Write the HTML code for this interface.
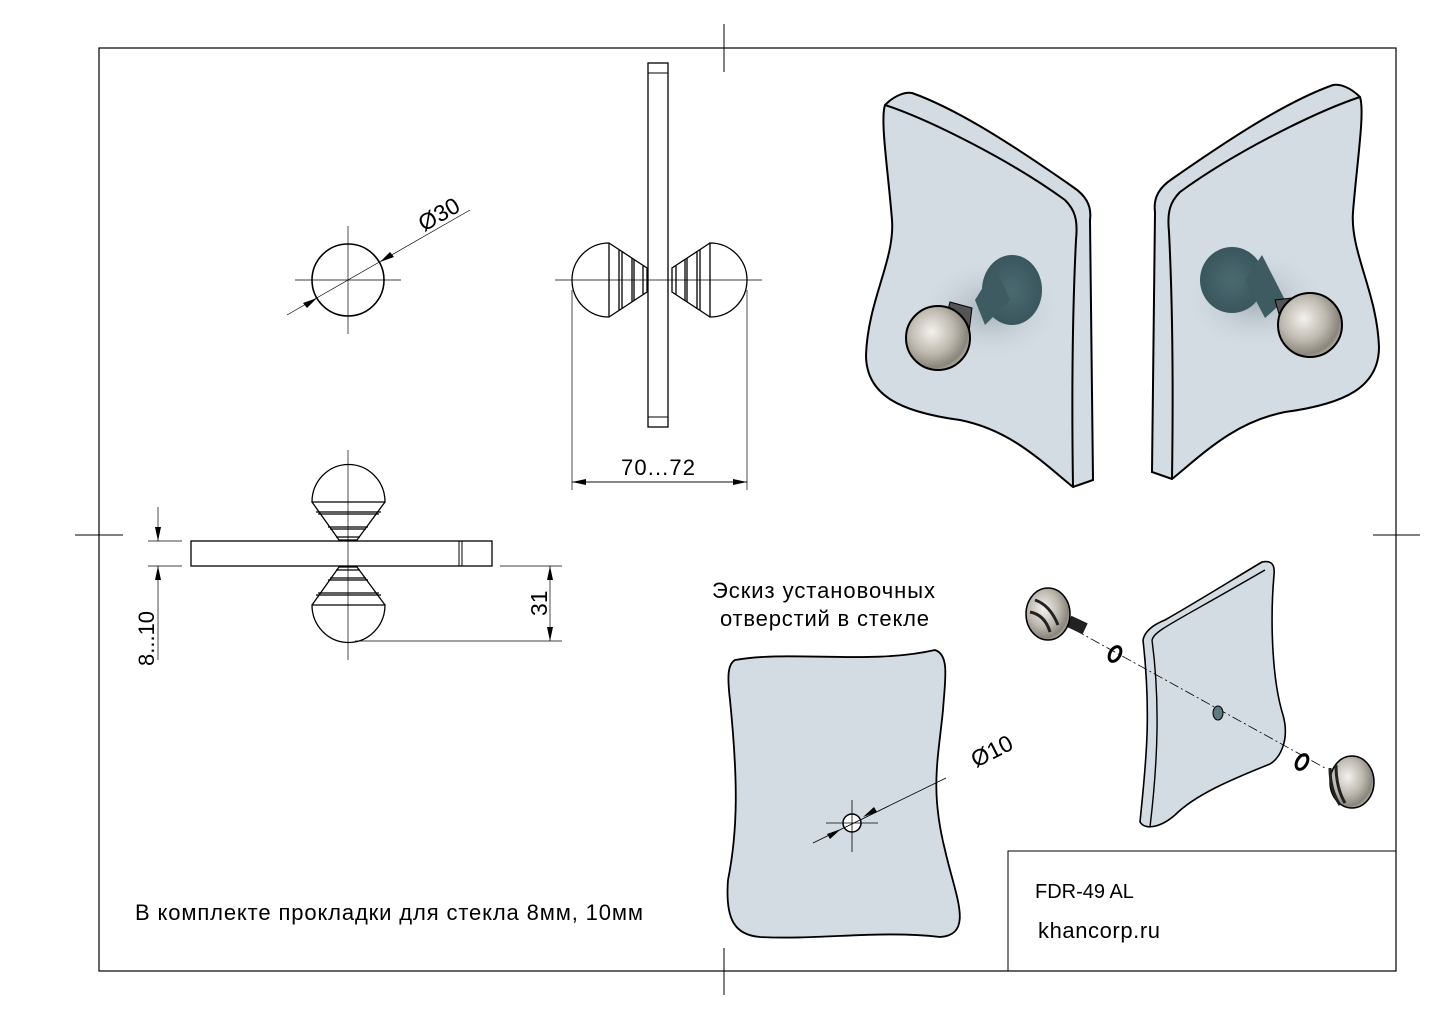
<!DOCTYPE html>
<html><head><meta charset="utf-8"><style>
html,body{margin:0;padding:0;background:#fff}
svg{display:block}
text{font-family:"Liberation Sans",sans-serif;fill:#000}
</style></head><body>
<svg width="1444" height="1021" viewBox="0 0 1444 1021" xmlns="http://www.w3.org/2000/svg">
<defs>
<marker id="ar" markerWidth="14" markerHeight="6" refX="14" refY="3" orient="auto" markerUnits="userSpaceOnUse"><path d="M0,0 L14,3 L0,6z" fill="#000"/></marker>
<radialGradient id="chrome" cx="0.4" cy="0.4" r="0.7"><stop offset="0" stop-color="#f4f2ee"/><stop offset="0.5" stop-color="#bdb8ae"/><stop offset="0.8" stop-color="#8a857c"/><stop offset="1" stop-color="#d8d2c4"/></radialGradient>
<radialGradient id="teal" cx="0.5" cy="0.5" r="0.6"><stop offset="0" stop-color="#4b6a70"/><stop offset="1" stop-color="#36525a"/></radialGradient>
<radialGradient id="shadow" cx="0.5" cy="0.5" r="0.5"><stop offset="0" stop-color="#8f9ba2" stop-opacity="0.7"/><stop offset="1" stop-color="#c9d3d9" stop-opacity="0"/></radialGradient>
</defs>
<g fill="none" stroke="#000">
<rect x="99" y="48" width="1297" height="923" stroke-width="1.2"/>
<line x1="724" y1="24" x2="724" y2="72"/>
<line x1="724" y1="948" x2="724" y2="995"/>
<line x1="75" y1="535" x2="123" y2="535"/>
<line x1="1373" y1="535" x2="1420" y2="535"/>
<rect x="1008" y="851" width="388" height="120"/>

<circle cx="348" cy="280" r="36" stroke-width="1.6"/>
<g stroke-width="0.7">
<line x1="348" y1="226" x2="348" y2="334"/>
<line x1="295" y1="280" x2="401" y2="280"/>
<line x1="287" y1="315" x2="470" y2="210"/>
</g>
<path d="M317,298 l-14,5 l4,5z" fill="#000" stroke="none"/>
<path d="M380,262 l14,-5 l-4,-5z" fill="#000" stroke="none"/>

<rect x="648" y="63" width="20" height="364" stroke-width="1.3"/>
<line x1="648" y1="73" x2="668" y2="73"/>
<line x1="648" y1="417" x2="668" y2="417"/>
<g stroke-width="1.3">
<path d="M609,243 A37,37 0 0 0 609,317 Z"/>
<path d="M609,243 L647,268 L647,292 L609,317"/>
<line x1="619" y1="250" x2="619" y2="310"/><line x1="622" y1="251" x2="622" y2="309"/>
<line x1="632" y1="258" x2="632" y2="302"/><line x1="634" y1="260" x2="634" y2="300"/>
<line x1="643" y1="266" x2="643" y2="294"/>
<path d="M710,243 A37,37 0 0 1 710,317 Z"/>
<path d="M710,243 L672,268 L672,292 L710,317"/>
<line x1="700" y1="250" x2="700" y2="310"/><line x1="697" y1="251" x2="697" y2="309"/>
<line x1="687" y1="258" x2="687" y2="302"/><line x1="685" y1="260" x2="685" y2="300"/>
<line x1="676" y1="266" x2="676" y2="294"/>
</g>
<g stroke-width="0.7">
<line x1="555" y1="280" x2="762" y2="280"/>
<line x1="572" y1="290" x2="572" y2="490"/>
<line x1="747" y1="290" x2="747" y2="490"/>
<line x1="572" y1="482" x2="747" y2="482" marker-end="url(#ar)"/>
<line x1="747" y1="482" x2="572" y2="482" marker-end="url(#ar)"/>
</g>

<rect x="191" y="541" width="301" height="25" stroke-width="1.3"/>
<line x1="459" y1="541" x2="459" y2="566"/><line x1="462" y1="541" x2="462" y2="566"/>
<g stroke-width="1.3">
<path d="M312,502 A36,37 0 0 1 385,502 Z"/>
<path d="M312,502 L339,540 L357,540 L385,502"/>
<line x1="316" y1="512" x2="381" y2="512"/><line x1="318" y1="514" x2="379" y2="514"/>
<line x1="328" y1="527" x2="368" y2="527"/><line x1="330" y1="529" x2="366" y2="529"/>
<line x1="336" y1="537" x2="360" y2="537"/>
<path d="M312,605 A36,37 0 0 0 385,605 Z"/>
<path d="M312,605 L339,567 L357,567 L385,605"/>
<line x1="316" y1="595" x2="381" y2="595"/><line x1="318" y1="593" x2="379" y2="593"/>
<line x1="328" y1="580" x2="368" y2="580"/><line x1="330" y1="578" x2="366" y2="578"/>
<line x1="336" y1="570" x2="360" y2="570"/>
</g>
<g stroke-width="0.7">
<line x1="348" y1="450" x2="348" y2="660"/>
<line x1="355" y1="641" x2="562" y2="641"/>
<line x1="500" y1="566" x2="562" y2="566"/>
<line x1="550" y1="603" x2="550" y2="566" marker-end="url(#ar)"/>
<line x1="550" y1="603" x2="550" y2="641" marker-end="url(#ar)"/>
<line x1="148" y1="541" x2="182" y2="541"/>
<line x1="148" y1="566" x2="182" y2="566"/>
<line x1="158" y1="507" x2="158" y2="541" marker-end="url(#ar)"/>
<line x1="158" y1="660" x2="158" y2="566" marker-end="url(#ar)"/>
</g>
</g>

<text x="621" y="475" font-size="22" textLength="74">70...72</text>
<text transform="translate(424,232) rotate(-30)" font-size="23">Ø30</text>
<text transform="translate(547,616) rotate(-90)" font-size="23">31</text>
<text transform="translate(154,666) rotate(-90)" font-size="22">8...10</text>
<text x="135" y="920" font-size="22" textLength="508">В комплекте прокладки для стекла 8мм, 10мм</text>
<text x="712" y="598" font-size="22" textLength="223">Эскиз установочных</text>
<text x="720" y="626" font-size="22" textLength="209">отверстий в стекле</text>
<text x="1035" y="898" font-size="20">FDR-49 AL</text>
<text x="1038" y="938" font-size="22" textLength="122">khancorp.ru</text>

<g stroke="#000" stroke-width="2">
<path d="M885,105 C895,95 905,92 912,93 C960,110 1020,150 1073,187 C1085,195 1092,205 1090,220 L1093,480 L1073,487 C1040,460 1010,430 960,420 C900,412 866,395 866,355 C868,300 895,260 892,220 C888,170 880,120 885,105 Z" fill="#d3dce2"/>
<path d="M885,105 C930,120 1010,160 1065,200 C1075,210 1078,220 1076,240 C1072,320 1072,420 1073,487" fill="none"/>
</g>
<ellipse cx="990" cy="310" rx="70" ry="50" fill="url(#shadow)"/>
<ellipse cx="1012" cy="290" rx="30" ry="35" fill="url(#teal)"/>
<path d="M975,300 L995,268 L1010,300 L985,325z" fill="#3e5b62"/>
<path d="M950,302 L972,308 L968,340 L940,340z" fill="#555" stroke="#000"/>
<ellipse cx="938" cy="338" rx="32" ry="32" fill="url(#chrome)" stroke="#000" stroke-width="2"/>

<g transform="translate(2245,-8) scale(-1,1)">
<path d="M885,105 C895,95 905,92 912,93 C960,110 1020,150 1073,187 C1085,195 1092,205 1090,220 L1093,480 L1073,487 C1040,460 1010,430 960,420 C900,412 866,395 866,355 C868,300 895,260 892,220 C888,170 880,120 885,105 Z" fill="#d3dce2" stroke="#000" stroke-width="2"/>
<path d="M885,105 C930,120 1010,160 1065,200 C1075,210 1078,220 1076,240 C1072,320 1072,420 1073,487" fill="none" stroke="#000" stroke-width="2"/>
</g>
<ellipse cx="1255" cy="300" rx="70" ry="50" fill="url(#shadow)"/>
<ellipse cx="1232" cy="280" rx="32" ry="33" fill="url(#teal)"/>
<path d="M1245,280 L1262,255 L1285,300 L1265,318z" fill="#3e5b62"/>
<path d="M1275,300 L1300,297 L1303,332 L1285,335z" fill="#555" stroke="#000"/>
<ellipse cx="1310" cy="325" rx="32" ry="32" fill="url(#chrome)" stroke="#000" stroke-width="2"/>

<path d="M735,660 C790,650 870,665 935,650 C950,655 945,680 943,710 C938,760 930,790 945,850 C955,895 975,935 940,937 C880,930 820,940 760,937 C735,935 725,920 728,880 C738,830 738,780 730,700 C727,675 728,664 735,660 Z" fill="#d3dce2" stroke="#000" stroke-width="1.8"/>
<circle cx="852" cy="823" r="9" fill="#fff" stroke="#000" stroke-width="1.5"/>
<g stroke="#000" stroke-width="0.8">
<line x1="852" y1="800" x2="852" y2="852"/>
<line x1="826" y1="823" x2="878" y2="823"/>
<line x1="813" y1="843" x2="946" y2="778"/>
</g>
<path d="M841,829 l-14,5 l3,5z" fill="#000"/>
<path d="M863,817 l14,-5 l-3,-5z" fill="#000"/>
<text transform="translate(976,768) rotate(-27)" font-size="23">Ø10</text>

<path d="M1143,640 C1145,630 1155,624 1165,620 C1200,600 1240,575 1262,562 C1272,560 1275,565 1274,575 C1270,620 1272,680 1283,715 C1290,740 1280,758 1270,764 C1230,780 1195,795 1175,815 C1160,828 1145,830 1140,822 C1145,770 1152,720 1143,640 Z" fill="#d3dce2" stroke="#000" stroke-width="1.6"/>
<path d="M1152,640 C1155,630 1170,625 1265,570" fill="none" stroke="#000" stroke-width="1.4"/>
<path d="M1152,640 C1160,700 1158,760 1150,827" fill="none" stroke="#000" stroke-width="1.4"/>
<line x1="1075" y1="630" x2="1325" y2="768" stroke="#000" stroke-width="0.8" stroke-dasharray="10,3,2,3"/>
<ellipse cx="1218" cy="713" rx="5" ry="7" fill="#5e7a80" stroke="#000"/>
<ellipse cx="1115" cy="654" rx="5" ry="8" fill="none" stroke="#000" stroke-width="3" transform="rotate(30 1115 654)"/>
<ellipse cx="1302" cy="762" rx="5" ry="8" fill="none" stroke="#000" stroke-width="3" transform="rotate(30 1302 762)"/>
<rect x="1068" y="619" width="18" height="12" fill="#222" transform="rotate(25 1077 625)"/>
<ellipse cx="1048" cy="614" rx="22" ry="26" fill="url(#chrome)" stroke="#000" stroke-width="1.5"/>
<path d="M1035,600 Q1050,605 1058,625 M1030,612 Q1045,615 1050,632" fill="none" stroke="#222" stroke-width="3"/>
<ellipse cx="1352" cy="782" rx="22" ry="26" fill="url(#chrome)" stroke="#000" stroke-width="1.5"/>
<path d="M1330,768 Q1330,790 1340,805 M1336,765 Q1336,788 1345,803" fill="none" stroke="#222" stroke-width="3"/>
</svg>
</body></html>
